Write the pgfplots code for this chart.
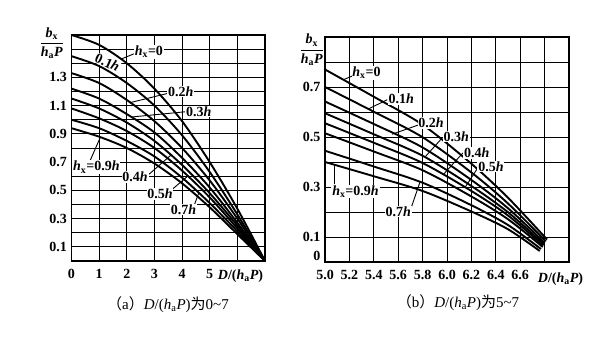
\documentclass[border=0pt]{standalone}
\usepackage{pgfplots}
\pgfplotsset{compat=1.18}
\usepackage{fontspec}
\setmainfont{Liberation Serif}
\newfontfamily\cjk{Noto Sans CJK SC}
\newcommand{\DhP}{\textit{D}/(\textit{h}\textsubscript{a}\textit{P})}
\newcommand{\hx}{\textit{h}\textsubscript{x}}
\newcommand{\fr}{$\displaystyle\frac{\textit{b}\textsubscript{x}}{\textit{h}\textsubscript{a}\textit{P}}$}
\pgfplotsset{
  common/.style={
    anchor=south west, scale only axis, clip=false,
    grid=both,
    major grid style={black, line width=0.9pt},
    minor grid style={black, line width=0.9pt},
    major tick length=0pt, minor tick length=0pt,
    tick style={draw=none},
    axis line style={black, line width=1.4pt},
    tick label style={font=\fontsize{14}{14}\selectfont\bfseries},
    xticklabel style={yshift=-5pt},
    yticklabel style={xshift=-1pt},
  },
  curve/.style={black, line width=1.9pt, smooth},
}
\tikzset{
  lab/.style={fill=white, inner sep=0.8pt, font=\fontsize{14}{14}\selectfont\bfseries},
  ldr/.style={black, line width=0.9pt},
}
\begin{document}
\begin{tikzpicture}[x=1pt,y=1pt]
\useasboundingbox (0,0) rectangle (611,358);
\fill[white] (0,0) rectangle (611,358);

% ---------------- (a) ----------------
\begin{axis}[common,
  at={(71.5pt,97pt)}, width=193.5pt, height=226pt,
  xmin=0, xmax=7, ymin=0, ymax=1.6,
  xtick={0,1,2,3,4,5,6,7}, xticklabels={0,1,2,3,4,5,{},{}},
  ytick={0.1,0.3,0.5,0.7,0.9,1.1,1.3},
  yticklabels={0.1,0.3,0.5,0.7,0.9,1.1,1.3},
  minor ytick={0.2,0.4,0.6,0.8,1.0,1.2,1.4,1.5},
]
\addplot[curve] coordinates {(0,1.60) (1,1.53) (2,1.40) (3,1.22) (4,0.99) (5,0.70) (6,0.37) (7,0)};
\addplot[curve] coordinates {(0,1.45) (1,1.38) (2,1.26) (3,1.10) (4,0.89) (5,0.63) (6,0.33) (7,0)};
\addplot[curve] coordinates {(0,1.33) (1,1.26) (2,1.14) (3,0.99) (4,0.80) (5,0.57) (6,0.30) (7,0)};
\addplot[curve] coordinates {(0,1.22) (1,1.15) (2,1.04) (3,0.91) (4,0.73) (5,0.52) (6,0.27) (7,0)};
\addplot[curve] coordinates {(0,1.15) (1,1.08) (2,0.98) (3,0.85) (4,0.68) (5,0.48) (6,0.25) (7,0)};
\addplot[curve] coordinates {(0,1.08) (1,1.01) (2,0.92) (3,0.80) (4,0.64) (5,0.45) (6,0.23) (7,0)};
\addplot[curve] coordinates {(0,1.00) (1,0.94) (2,0.85) (3,0.74) (4,0.59) (5,0.41) (6,0.21) (7,0)};
\addplot[curve] coordinates {(0,0.94) (1,0.88) (2,0.80) (3,0.69) (4,0.55) (5,0.38) (6,0.19) (7,0)};
% labels
\draw[ldr] (axis cs:2.3,1.47) -- (axis cs:1.8,1.43);
\node[lab] at (axis cs:2.8,1.48) {\hx=0};
\node[lab, rotate=-24, inner sep=0.3pt] at (axis cs:1.3,1.405) {0.1\textit{h}};
\draw[ldr] (axis cs:3.55,1.19) -- (axis cs:2.1,1.12);
\node[lab] at (axis cs:3.95,1.20) {0.2\textit{h}};
\draw[ldr] (axis cs:4.2,1.058) -- (axis cs:2.2,1.02);
\node[lab] at (axis cs:4.6,1.06) {0.3\textit{h}};
\draw[ldr] (axis cs:0.65,0.70) -- (axis cs:1.03,0.87);
\node[lab] at (axis cs:0.9,0.664) {\hx=0.9\textit{h}};
\draw[ldr] (axis cs:2.75,0.605) -- (axis cs:3.6,0.75);
\node[lab] at (axis cs:2.3,0.593) {0.4\textit{h}};
\draw[ldr] (axis cs:3.6,0.50) -- (axis cs:4.2,0.60);
\node[lab] at (axis cs:3.2,0.473) {0.5\textit{h}};
\draw[ldr] (axis cs:4.45,0.40) -- (axis cs:4.6,0.48);
\node[lab] at (axis cs:4.05,0.366) {0.7\textit{h}};
\end{axis}

% ---------------- (b) ----------------
\begin{axis}[common,
  at={(325pt,96pt)}, width=244pt, height=225pt,
  xmin=5, xmax=7, ymin=0, ymax=0.9,
  xtick={5,5.2,5.4,5.6,5.8,6,6.2,6.4,6.6,6.8,7},
  xticklabels={5.0,5.2,5.4,5.6,5.8,6.0,6.2,6.4,6.6,{},{}},
  ytick={0.1,0.3,0.5,0.7},
  yticklabels={0.1,0.3,0.5,0.7},
  minor ytick={0.2,0.4,0.6,0.8},
  extra y ticks={0}, extra y tick labels={0},
  extra y tick style={yticklabel style={yshift=6pt}},
]
\addplot[curve] coordinates {(5.0,0.770) (5.4,0.661) (5.8,0.549) (6.2,0.393) (6.5,0.257) (6.82,0.090)};
\addplot[curve] coordinates {(5.0,0.700) (5.4,0.601) (5.8,0.499) (6.2,0.358) (6.5,0.234) (6.81,0.083)};
\addplot[curve] coordinates {(5.0,0.642) (5.4,0.552) (5.8,0.458) (6.2,0.328) (6.5,0.215) (6.80,0.077)};
\addplot[curve] coordinates {(5.0,0.595) (5.4,0.511) (5.8,0.425) (6.2,0.304) (6.5,0.199) (6.795,0.071)};
\addplot[curve] coordinates {(5.0,0.555) (5.4,0.477) (5.8,0.396) (6.2,0.284) (6.5,0.186) (6.79,0.066)};
\addplot[curve] coordinates {(5.0,0.515) (5.4,0.442) (5.8,0.367) (6.2,0.262) (6.5,0.171) (6.785,0.060)};
\addplot[curve] coordinates {(5.0,0.445) (5.4,0.382) (5.8,0.317) (6.2,0.227) (6.5,0.148) (6.77,0.052)};
\addplot[curve] coordinates {(5.0,0.400) (5.4,0.343) (5.8,0.284) (6.2,0.202) (6.5,0.131) (6.76,0.044)};
% labels
\draw[ldr] (axis cs:5.25,0.749) -- (axis cs:5.15,0.729);
\node[lab] at (axis cs:5.34,0.756) {\hx=0};
\draw[ldr] (axis cs:5.51,0.649) -- (axis cs:5.355,0.612);
\node[lab] at (axis cs:5.625,0.652) {0.1\textit{h}};
\draw[ldr] (axis cs:5.77,0.549) -- (axis cs:5.55,0.511);
\node[lab] at (axis cs:5.87,0.556) {0.2\textit{h}};
\draw[ldr] (axis cs:5.96,0.496) -- (axis cs:5.82,0.42);
\node[lab] at (axis cs:6.075,0.502) {0.3\textit{h}};
\draw[ldr] (axis cs:6.13,0.436) -- (axis cs:5.97,0.35);
\node[lab] at (axis cs:6.245,0.436) {0.4\textit{h}};
\draw[ldr] (axis cs:6.26,0.382) -- (axis cs:6.15,0.30);
\node[lab] at (axis cs:6.36,0.382) {0.5\textit{h}};
\draw[ldr] (axis cs:5.08,0.31) -- (axis cs:5.08,0.389);
\node[lab] at (axis cs:5.25,0.282) {\hx=0.9\textit{h}};
\draw[ldr] (axis cs:5.71,0.222) -- (axis cs:5.78,0.322);
\node[lab] at (axis cs:5.60,0.202) {0.7\textit{h}};
\end{axis}

% axis titles and captions
\node[font=\fontsize{14}{14}\selectfont\bfseries] at (51.7,314.7) {\fr};
\node[font=\fontsize{14}{14}\selectfont\bfseries] at (311.7,308) {\fr};
\node[font=\fontsize{14}{14}\selectfont\bfseries] at (240.5,82) {\DhP};
\node[font=\fontsize{14}{14}\selectfont\bfseries] at (560.5,79) {\DhP};
\node[font=\fontsize{15}{15}\selectfont] at (168,53) {{\cjk （}a{\cjk ）}\DhP{\cjk 为}0\textasciitilde 7};
\node[font=\fontsize{15}{15}\selectfont] at (458,55) {{\cjk （}b{\cjk ）}\DhP{\cjk 为}5\textasciitilde 7};
\end{tikzpicture}
\end{document}
